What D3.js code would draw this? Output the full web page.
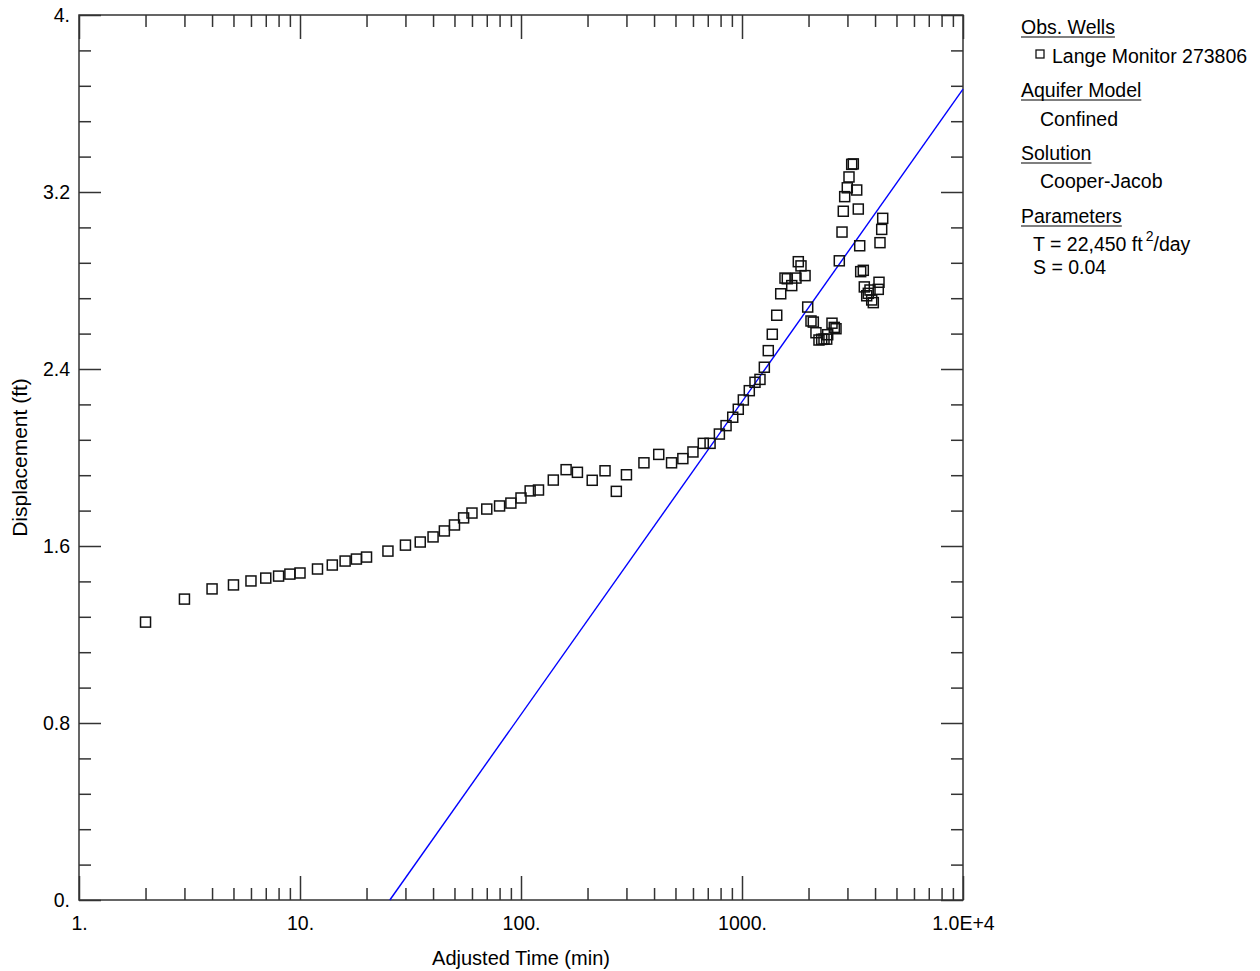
<!DOCTYPE html>
<html lang="en">
<head>
<meta charset="utf-8">
<title>Cooper-Jacob</title>
<script src="https://cdn.jsdelivr.net/npm/d3@7"></script>
<style>
  body { margin: 0; background: #fff; }
  text { font-family: "Liberation Sans", Arial, sans-serif; fill: #000; }
</style>
</head>
<body>
<script>
var timeMin = [2, 3, 4, 5, 6, 7, 8, 9, 10, 12, 14, 16, 18, 20, 25, 30, 35, 40, 45, 50, 55, 60,
  70, 80, 90, 100, 110, 120, 140, 160, 180, 210, 240, 270, 300, 360, 420, 480, 540, 600,
  668, 717, 790, 847, 908, 962, 1014, 1079, 1145, 1206, 1262, 1315, 1371, 1436, 1497, 1565,
  1603, 1679, 1755, 1798, 1849, 1929, 1983, 2052, 2102, 2161, 2230, 2294, 2350, 2417, 2442,
  2554, 2616, 2663, 2756, 2835, 2873, 2915, 2995, 3049, 3136, 3189, 3304, 3359, 3409, 3444,
  3539, 3576, 3667, 3728, 3795, 3863, 3928, 4137, 4168, 4211, 4287, 4332];
var dispFt = [1.256, 1.360, 1.406, 1.424, 1.442, 1.455, 1.464, 1.473, 1.478, 1.496, 1.514, 1.532,
  1.541, 1.550, 1.577, 1.604, 1.618, 1.641, 1.668, 1.695, 1.727, 1.749, 1.767, 1.781, 1.794,
  1.817, 1.849, 1.853, 1.898, 1.945, 1.933, 1.897, 1.940, 1.847, 1.922, 1.976, 2.014, 1.976,
  1.995, 2.025,
  2.064, 2.064, 2.106, 2.144, 2.182, 2.218, 2.260, 2.302, 2.340, 2.353, 2.408, 2.483, 2.557,
  2.643, 2.740, 2.811, 2.808, 2.777, 2.811, 2.885, 2.866, 2.822, 2.680, 2.617, 2.612, 2.564,
  2.531, 2.534, 2.535, 2.535, 2.555, 2.607, 2.588, 2.582, 2.889, 3.019, 3.113, 3.179, 3.219,
  3.268, 3.325, 3.327, 3.209, 3.123, 2.957, 2.840, 2.846, 2.771, 2.731, 2.742, 2.757, 2.712,
  2.700, 2.760, 2.792, 2.971, 3.031, 3.081];

// fitted Cooper-Jacob straight line (end points)
var fitTime = [25.5, 10000];
var fitDisp = [0, 3.665];

// axis ticks and labels
var xMajor = [1, 10, 100, 1000, 10000];
var xLabels = ["1.", "10.", "100.", "1000.", "1.0E+4"];
var yMajor = [0, 0.8, 1.6, 2.4, 3.2, 4.0];
var yLabels = ["0.", "0.8", "1.6", "2.4", "3.2", "4."];

// legend text
var legendHeads = ["Obs. Wells", "Aquifer Model", "Solution", "Parameters"];
var wellName = "Lange Monitor 273806";
var modelName = "Confined";
var solutionName = "Cooper-Jacob";
var paramT = "T = 22,450 ft";
var paramS = "S = 0.04";

var w = 1260, h = 971;
var plotL = 79, plotR = 963, plotT = 15, plotB = 900;
var fs = "19.5px";

var svg = d3.select("body").append("svg").attr("width", w).attr("height", h);

var x = d3.scaleLog().domain([1, 10000]).range([plotL, plotR]);
var y = d3.scaleLinear().domain([0, 4]).range([plotB, plotT]);

// minor ticks
var xMinor = [];
for (var dec = 1; dec < 10000; dec *= 10) {
  for (var k = 2; k <= 9; k++) xMinor.push(dec * k);
}
var yMinor = d3.range(0, 26).map(function (i) { return i * 0.16; })
  .filter(function (v, i) { return i % 5 != 0; });

var tickColor = "#333";

function styleAxis(g) {
  g.select(".domain").remove();
  g.selectAll(".tick line").attr("stroke", tickColor).attr("stroke-width", 1.5);
  g.selectAll(".tick text").style("font-size", fs)
    .style("font-family", "'Liberation Sans', Arial, sans-serif").attr("fill", "#000");
}

// bottom
svg.append("g").attr("transform", "translate(0," + plotB + ")")
  .call(d3.axisBottom(x).tickValues(xMajor).tickSize(-24).tickPadding(16)
    .tickFormat(function (d, i) { return xLabels[i]; }))
  .call(styleAxis);
svg.append("g").attr("transform", "translate(0," + plotB + ")")
  .call(d3.axisBottom(x).tickValues(xMinor).tickSize(-12).tickFormat(""))
  .call(styleAxis);
// top
svg.append("g").attr("transform", "translate(0," + plotT + ")")
  .call(d3.axisTop(x).tickValues(xMajor).tickSize(-24).tickFormat(""))
  .call(styleAxis);
svg.append("g").attr("transform", "translate(0," + plotT + ")")
  .call(d3.axisTop(x).tickValues(xMinor).tickSize(-12).tickFormat(""))
  .call(styleAxis);
// left
svg.append("g").attr("transform", "translate(" + plotL + ",0)")
  .call(d3.axisLeft(y).tickValues(yMajor).tickSize(-22).tickPadding(9)
    .tickFormat(function (d, i) { return yLabels[i]; }))
  .call(styleAxis);
svg.append("g").attr("transform", "translate(" + plotL + ",0)")
  .call(d3.axisLeft(y).tickValues(yMinor).tickSize(-12).tickFormat(""))
  .call(styleAxis);
// right
svg.append("g").attr("transform", "translate(" + plotR + ",0)")
  .call(d3.axisRight(y).tickValues(yMajor).tickSize(-22).tickFormat(""))
  .call(styleAxis);
svg.append("g").attr("transform", "translate(" + plotR + ",0)")
  .call(d3.axisRight(y).tickValues(yMinor).tickSize(-12).tickFormat(""))
  .call(styleAxis);

// frame
svg.append("rect")
  .attr("x", plotL).attr("y", plotT)
  .attr("width", plotR - plotL).attr("height", plotB - plotT)
  .attr("fill", "none").attr("stroke", tickColor).attr("stroke-width", 1.5);

// fitted line
var fit = fitTime.map(function (t, i) { return [t, fitDisp[i]]; });
svg.append("path")
  .datum(fit)
  .attr("d", d3.line().x(function (d) { return x(d[0]); }).y(function (d) { return y(d[1]); }))
  .attr("fill", "none").attr("stroke", "#0000ff").attr("stroke-width", 1.4);

// observed points
var pts = timeMin.map(function (t, i) { return [t, dispFt[i]]; });
var s = 10;
svg.selectAll("rect.obs")
  .data(pts)
  .enter()
  .append("rect")
  .attr("class", "obs")
  .attr("x", function (d) { return x(d[0]) - s / 2; })
  .attr("y", function (d) { return y(d[1]) - s / 2; })
  .attr("width", s).attr("height", s)
  .attr("fill", "none").attr("stroke", "#111").attr("stroke-width", 1.5);

// axis titles
svg.append("text")
  .attr("x", (plotL + plotR) / 2).attr("y", 965)
  .attr("text-anchor", "middle").style("font-size", "20px")
  .text("Adjusted Time (min)");
svg.append("text")
  .attr("transform", "translate(27," + ((plotT + plotB) / 2) + ") rotate(-90)")
  .attr("text-anchor", "middle").style("font-size", "21px")
  .text("Displacement (ft)");

// legend
var lx = 1021;
function head(txt, yb) {
  var t = svg.append("text").attr("x", lx).attr("y", yb).style("font-size", fs).text(txt);
  var len = t.node().getComputedTextLength();
  svg.append("line").attr("x1", lx).attr("x2", lx + len)
    .attr("y1", yb + 3).attr("y2", yb + 3)
    .attr("stroke", "#000").attr("stroke-width", 1.2);
}
head(legendHeads[0], 34);
svg.append("rect").attr("x", 1036).attr("y", 50).attr("width", 8).attr("height", 8)
  .attr("fill", "none").attr("stroke", "#111").attr("stroke-width", 1.3);
svg.append("text").attr("x", 1052).attr("y", 63).style("font-size", fs).text(wellName);

head(legendHeads[1], 97);
svg.append("text").attr("x", 1040).attr("y", 126).style("font-size", fs).text(modelName);

head(legendHeads[2], 160);
svg.append("text").attr("x", 1040).attr("y", 188).style("font-size", fs).text(solutionName);

head(legendHeads[3], 223);
var tT = svg.append("text").attr("x", 1033).attr("y", 251).style("font-size", fs);
tT.append("tspan").text(paramT);
tT.append("tspan").attr("dx", 3).attr("dy", -10).style("font-size", "14px").text("2");
tT.append("tspan").attr("dy", 10).text("/day");
svg.append("text").attr("x", 1033).attr("y", 274).style("font-size", fs).text(paramS);
</script>
</body>
</html>
